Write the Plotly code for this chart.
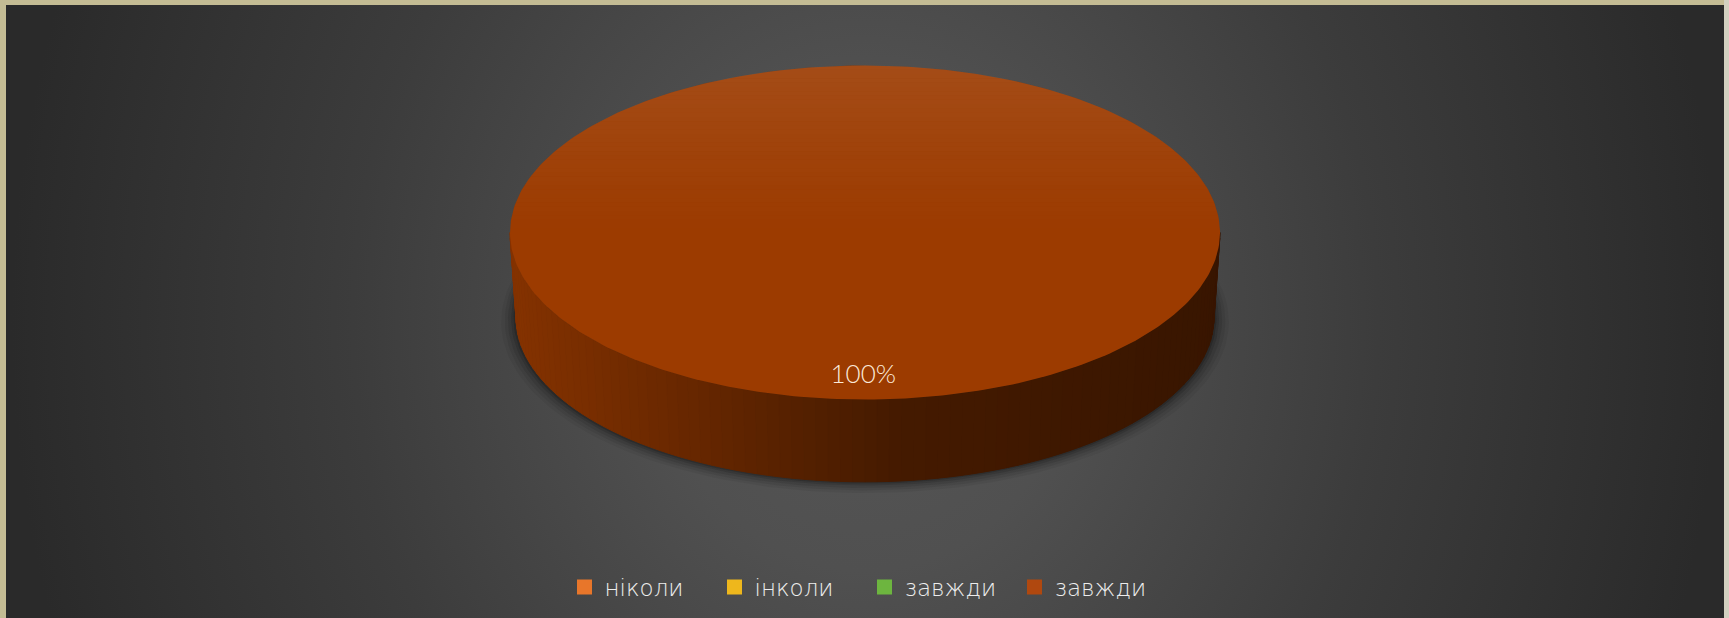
import base64
import numpy as np
import plotly.graph_objects as go

# Data
categories = ["ніколи", "інколи", "завжди", "завжди "]
values = [0, 0, 0, 100]
percent_labels = ["0%", "0%", "0%", "100%"]

# Style
W, H = 1729, 618
slice_colors = ["#d9661f", "#e0a80f", "#5fa52f", "#9c3b00"]
legend_colors = ["#e8762a", "#eeb71c", "#6db53f", "#b0480f"]
PX_X, PX_Y = 355.0, 167.0   # pixels per pie radius
CX, CY = 865.0, 232.5       # pie centre in pixels
DEPTH = 0.51
BOTTOM_SCALE = 0.983

bg_svg = f'''<svg xmlns="http://www.w3.org/2000/svg" width="{W}" height="{H}">
<defs><radialGradient id="g" gradientUnits="userSpaceOnUse" cx="0" cy="0" r="1"
 gradientTransform="translate(865 320) scale(860 1000)">
<stop offset="0" stop-color="#565656"/><stop offset="0.25" stop-color="#505050"/>
<stop offset="0.6" stop-color="#3c3c3c"/><stop offset="1" stop-color="#2a2a2a"/>
</radialGradient></defs><rect width="{W}" height="{H}" fill="url(#g)"/></svg>'''
bg_uri = "data:image/svg+xml;base64," + base64.b64encode(bg_svg.encode()).decode()

fig = go.Figure()


def poly(x, y, color, line=None, width=0):
    fig.add_trace(go.Scatter(
        x=x, y=y, mode="lines", fill="toself", fillcolor=color,
        line=dict(color=line or "rgba(0,0,0,0)", width=width),
        hoverinfo="skip", showlegend=False))


def shade_of(hex_color, k):
    r, g, b = [int(hex_color[i:i + 2], 16) for i in (1, 3, 5)]
    return f"rgb({r * k:.0f},{g * k:.0f},{b * k:.0f})"


# Soft shadow below the disc
t = np.linspace(0, 2 * np.pi, 240)
for grow, alpha in [(0.042, 0.05), (0.032, 0.07), (0.023, 0.09), (0.014, 0.12), (0.007, 0.16)]:
    r = BOTTOM_SCALE + grow
    poly(r * np.cos(t), r * np.sin(t) - DEPTH - grow * 0.6, f"rgba(0,0,0,{alpha})")

# Slice angles from the values (clockwise from 12 o'clock)
total = sum(values)
shares = np.array(values, dtype=float) / total
ends = np.cumsum(shares)
starts = ends - shares
to_angle = lambda s: np.pi / 2 - 2 * np.pi * s

# Side wall
shade_u = [0.0, 0.2, 0.55, 1.0]
shade_k = [0.85, 0.70, 0.44, 0.36]
for s0, s1, col in zip(starts, ends, slice_colors):
    if s1 <= s0:
        continue
    a = np.arange(to_angle(s1), to_angle(s0) + 1e-9, np.radians(2))
    for a0, a1 in zip(a[:-1], a[1:]):
        mid = (a0 + a1) / 2
        if np.sin(mid) > 0:
            continue
        c = shade_of(col, float(np.interp((np.cos(mid) + 1) / 2, shade_u, shade_k)))
        xs = [np.cos(a0), np.cos(a1), BOTTOM_SCALE * np.cos(a1), BOTTOM_SCALE * np.cos(a0), np.cos(a0)]
        ys = [np.sin(a0), np.sin(a1), BOTTOM_SCALE * np.sin(a1) - DEPTH, BOTTOM_SCALE * np.sin(a0) - DEPTH, np.sin(a0)]
        poly(xs, ys, c, line=c, width=1)

# Top face
for s0, s1, col in zip(starts, ends, slice_colors):
    if s1 <= s0:
        continue
    a = np.linspace(to_angle(s0), to_angle(s1), 360)
    xs, ys = np.cos(a), np.sin(a)
    if s1 - s0 < 0.999:
        xs, ys = np.r_[0, xs, 0], np.r_[0, ys, 0]
    poly(xs, ys, col)

# Sheen on the upper part of the top face
edges = np.linspace(1, 0.0, 40)
for y0, y1 in zip(edges[:-1], edges[1:]):
    yy = np.linspace(y1, y0, 12)
    xx = np.sqrt(np.clip(1 - yy ** 2, 0, 1))
    alpha = 0.09 * ((y0 + y1) / 2) ** 1.1
    poly(np.r_[xx, -xx[::-1]], np.r_[yy, yy[::-1]], f"rgba(255,255,255,{alpha:.3f})")

# Legend entries
for name, col in zip(categories, legend_colors):
    fig.add_trace(go.Scatter(
        x=[None], y=[None], mode="markers", name=name,
        marker=dict(symbol="square", size=15, color=col), hoverinfo="skip"))

# Data labels
for s0, s1, v, lab in zip(starts, ends, values, percent_labels):
    if v <= 0:
        continue
    mid = to_angle((s0 + s1) / 2)
    fig.add_trace(go.Scatter(
        x=[0.86 * np.cos(mid) - 0.005], y=[0.86 * np.sin(mid)], mode="text", text=[lab],
        textposition="middle center", textfont=dict(family="Lato Light, Lato", size=26, color="#fbe9d8"),
        hoverinfo="skip", showlegend=False))

fig.update_layout(
    width=W, height=H, autosize=False,
    margin=dict(l=0, r=0, t=0, b=0),
    paper_bgcolor="#c4bc94", plot_bgcolor="rgba(0,0,0,0)",
    xaxis=dict(range=[-CX / PX_X, (W - CX) / PX_X], visible=False, fixedrange=True),
    yaxis=dict(range=[(CY - H) / PX_Y, CY / PX_Y], visible=False, fixedrange=True),
    images=[dict(source=bg_uri, xref="paper", yref="paper", x=6 / W, y=1 - 5 / H,
                 sizex=(W - 11) / W, sizey=(H - 5) / H, xanchor="left", yanchor="top",
                 sizing="stretch", layer="below")],
    shapes=[dict(type="rect", xref="paper", yref="paper", x0=1724 / W, x1=1, y0=0, y1=1,
                 fillcolor="#d2d0c0", line_width=0, layer="below")],
    legend=dict(orientation="h", x=0.5, xanchor="center", y=1 - 587 / H, yanchor="middle",
                bgcolor="rgba(0,0,0,0)", entrywidth=105, entrywidthmode="pixels",
                font=dict(family="DejaVu Sans Light, DejaVu Sans", size=23, color="#ededed"),
                itemclick=False, itemdoubleclick=False),
    showlegend=True,
)
fig.write_html("out.html", config=dict(displayModeBar=False),
               post_script="document.body.style.margin='0';document.body.style.overflow='hidden';")
